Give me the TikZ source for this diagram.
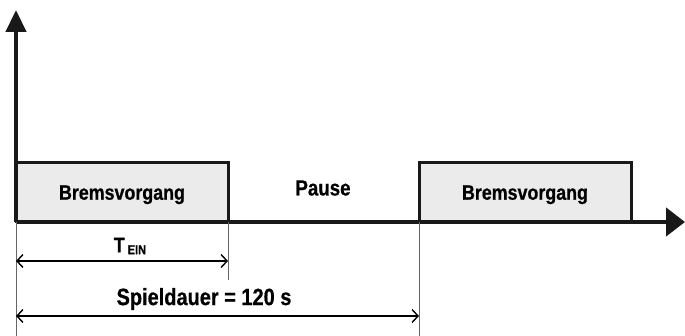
\documentclass[tikz,border=0pt]{standalone}
\usepackage{fontspec}
\setmainfont{Liberation Sans}[FakeStretch=0.85, BoldFeatures={FakeBold=0.6}]
\usepackage{tikz}
\usetikzlibrary{positioning, arrows.meta}
\tikzstyle{brake} = [rectangle, draw=black!90, line width=3pt, outer sep=0pt, fill=black!8, minimum width=212pt, minimum height=59pt, inner sep=0pt, text depth=-10pt, font=\bfseries\fontsize{21}{24}\selectfont]
\tikzstyle{txt} = [inner sep=0pt, font=\bfseries\fontsize{21}{24}\selectfont]
\tikzstyle{axis} = [line width=4.5pt, draw=black!90]
\tikzstyle{guide} = [line width=0.7pt, draw=black!60]
\tikzstyle{dim} = [line width=1.4pt, {Straight Barb[length=6pt,width=13pt]}-{Straight Barb[length=6pt,width=13pt]}]

\begin{document}
\begin{tikzpicture}[x=1pt, y=-1pt, node distance=191pt]
        \useasboundingbox (0,0) rectangle (685,336);
        \coordinate (o)     at (16,222);
        \coordinate (y tip) at (16,10);
        \coordinate (x tip) at (685,222);

        \node[brake, anchor=south west] at (o)         (brake 1) {Bremsvorgang};
        \node[brake, right=of brake 1]                 (brake 2) {Bremsvorgang};
        \node[txt, font=\bfseries\fontsize{22}{24}\selectfont] at (323,188) (pause) {Pause};

        \draw[axis, -{Triangle[length=22pt,width=20pt]}] (o) -- (y tip);
        \draw[axis, -{Triangle[length=19pt,width=28pt]}] (o) -- (x tip);

        \coordinate (g1) at (16,336);
        \coordinate (g2) at (brake 1.south east |- 0,280);
        \coordinate (g3) at (brake 2.south west |- 0,336);
        \draw[guide] (o) -- (g1);
        \draw[guide] (brake 1.south east) -- (g2);
        \draw[guide] (brake 2.south west) -- (g3);

        \coordinate (t a) at (16,261);
        \coordinate (t b) at (g2 |- 0,261);
        \coordinate (s a) at (16,316);
        \coordinate (s b) at (g3 |- 0,316);
        \draw[dim] (t a) -- (t b);
        \draw[dim] (s a) -- (s b);

        \node[txt] at (130,246) (t ein) {T\kern3pt\raisebox{-2pt}{\fontsize{13}{15}\selectfont EIN}};
        \node[txt, font=\bfseries\fontsize{23.5}{26}\selectfont] at (204,299) (cycle) {Spieldauer = 120 s};
    \end{tikzpicture}
\end{document}
